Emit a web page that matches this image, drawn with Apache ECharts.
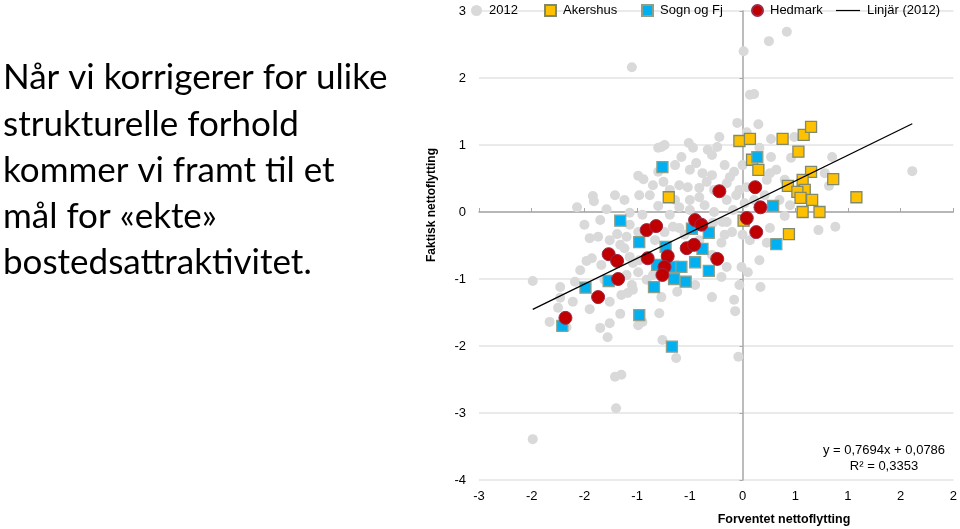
<!DOCTYPE html>
<html><head><meta charset="utf-8">
<script src="https://cdn.jsdelivr.net/npm/echarts@6/dist/echarts.min.js"></script>
<style>html,body{margin:0;padding:0;background:#fff}#c{width:960px;height:529px}</style>
</head><body><div id="c"></div>
<script>
// Data
const pts2012 = [
[0.42,2.69],[0.25,2.55],[0.01,2.40],[-1.05,2.16],[0.07,1.75],[0.11,1.76],[-0.05,1.33],[0.15,1.31],[0.04,1.19],
[-0.77,0.97],[-0.74,1.00],[-0.80,0.96],[-0.51,1.03],[-0.47,0.96],[-0.22,1.12],[-0.24,0.97],[-0.33,0.93],[-0.29,0.85],
[-0.58,0.82],[-0.44,0.73],[-0.38,0.58],[-0.29,0.55],[-0.12,0.52],[0.00,0.70],[0.27,1.09],[0.16,0.96],[0.27,0.82],
[0.32,0.63],[0.26,0.58],[0.23,0.48],[0.04,0.37],[-0.03,0.33],[-0.15,0.43],[-0.34,0.45],[-0.60,0.40],[-0.52,0.37],
[-0.41,0.36],[-0.69,0.33],[-0.85,0.40],[-0.75,0.45],[-0.80,0.60],[-0.99,0.54],[-0.94,0.49],[0.46,0.81],[0.49,1.12],
[0.40,0.48],[0.85,0.82],[0.78,0.58],[0.82,0.39],[1.61,0.61],[0.72,-0.27],[0.88,-0.22],
[-1.42,0.24],[-1.41,0.16],[-1.57,0.07],[-1.29,0.04],[-1.07,-0.01],[-0.95,-0.04],[-0.80,0.09],[-0.60,0.07],[-0.50,0.18],
[-0.41,0.22],[-0.15,0.18],[-0.06,0.25],[0.02,0.13],[-0.09,0.03],[-0.19,-0.15],[-0.10,-0.30],[0.00,-0.34],[0.07,-0.42],
[0.23,-0.46],[0.26,-0.24],[0.40,-0.06],[-0.20,-0.46],[-0.29,-0.64],[-0.15,-0.82],[-0.01,-0.82],[0.05,-0.90],[-0.20,-0.97],
[-0.45,-1.09],[-0.03,-1.09],[0.17,-1.12],[-0.77,-1.27],[-0.29,-1.27],[-0.08,-1.31],[-0.07,-1.48],[-0.79,-1.51],
[-0.76,-1.91],[-0.63,-2.18],[-0.04,-2.16],[-1.45,-0.39],[-1.37,-0.37],[-1.19,-0.33],[-1.10,-0.37],[-0.99,-0.30],
[-0.66,-0.22],[-0.60,-0.24],[-0.28,-0.16],[-0.15,-0.15],[-1.48,-0.73],[-1.43,-0.69],[-1.34,-0.79],[-1.12,-0.54],
[-1.07,-0.67],[-1.04,-0.76],[-0.99,-0.90],[-0.91,-1.01],[-0.85,-0.94],[-1.10,-0.94],[-1.05,-1.09],[-1.15,-1.24],
[-1.09,-1.21],[-1.26,-1.34],[-1.61,-1.34],[-1.73,-1.12],[-1.59,-1.04],[-1.73,-1.28],[-1.75,-1.43],[-1.45,-1.45],
[-1.16,-1.52],[-1.26,-1.66],[-0.95,-1.64],[-0.62,-1.19],[-1.83,-1.64],[-1.35,-1.73],[-1.99,-1.03],[-1.04,-1.16],
[-0.99,-1.69],[-1.28,-1.87],[-1.67,-1.72],[-1.15,-2.43],[-1.21,-2.46],[-1.20,-2.93],[-1.99,-3.39],
[-0.64,0.18],[-0.50,0.03],[-0.36,0.10],[-0.27,0.00],[-0.17,-0.34],[-0.41,-0.42],[-0.55,-0.34],[-0.74,-0.30],
[-0.83,-0.42],[-0.69,-0.04],[-0.27,0.33],[-0.88,0.25],[-0.98,0.25],[-1.12,0.18],[-1.21,0.25],[-1.07,-0.19],
[-1.16,-0.49],[-1.26,-0.42],[0.16,-0.72],[0.11,0.18],[0.21,0.25],[0.35,0.18],[0.45,0.10],[-0.17,0.70],[-0.08,0.60],
[-0.50,0.63],[-0.64,0.70],[-0.98,-0.72],[-1.31,-1.01],[-1.54,-0.87],[-1.50,-0.19],[-1.35,-0.12]
];
const akershus = [
[-0.03,1.06],[0.07,1.09],[0.38,1.09],[0.58,1.15],[0.65,1.27],[0.53,0.90],[0.09,0.78],[0.15,0.63],[0.65,0.60],
[0.86,0.49],[0.43,0.39],[0.57,0.48],[0.59,0.33],[0.52,0.30],[0.55,0.21],[0.66,0.18],[-0.70,0.22],[1.08,0.22],
[0.57,0.00],[0.73,0.00],[0.01,-0.13],[0.44,-0.33]
];
const sognOgFj = [
[-0.76,0.67],[0.14,0.82],[0.29,0.09],[0.32,-0.48],[-1.16,-0.13],[-0.98,-0.45],[-0.48,-0.25],[-0.32,-0.31],
[-0.73,-0.52],[-0.38,-0.55],[-0.45,-0.75],[-0.81,-0.79],[-0.66,-0.82],[-0.58,-0.82],[-0.32,-0.88],[-0.65,-1.00],
[-0.54,-1.04],[-1.27,-1.03],[-1.49,-1.13],[-0.84,-1.12],[-0.98,-1.54],[-1.71,-1.70],[-0.67,-2.01]
];
const hedmark = [
[-0.22,0.31],[0.12,0.37],[0.17,0.07],[0.04,-0.09],[0.13,-0.30],[-0.45,-0.12],[-0.39,-0.19],[-0.91,-0.27],
[-0.82,-0.21],[-1.27,-0.63],[-1.19,-0.73],[-0.90,-0.69],[-0.71,-0.66],[-0.53,-0.54],[-0.46,-0.49],[-0.74,-0.82],
[-0.76,-0.94],[-0.24,-0.70],[-1.18,-1.00],[-1.37,-1.27],[-1.68,-1.58]
];
const trendSlope = 0.7694, trendIntercept = 0.0786;
const leftText = ['Når vi korrigerer for ulike','strukturelle forhold','kommer vi framt til et','mål for «ekte»','bostedsattraktivitet.'];

const xs = pts2012.map(p=>p[0]);
const xMin = Math.min(...xs), xMax = Math.max(...xs);
const trend = [[xMin, trendSlope*xMin+trendIntercept],[xMax, trendSlope*xMax+trendIntercept]];

const FONT = 'Liberation Sans, Arial, sans-serif';
const chart = echarts.init(document.getElementById('c'), null, {renderer:'canvas'});
function roundExcel(v){ return (v<0?-1:1)*Math.round(Math.abs(v)); }

const legendBase = {top:-1, itemGap:0, itemWidth:11, itemHeight:11, textStyle:{fontFamily:FONT,fontSize:13,color:'#000',padding:[0,0,0,2]}, selectedMode:false};
const option = {
  animation:false,
  backgroundColor:'#fff',
  legend:[
    Object.assign({}, legendBase, {left:466, data:[{name:'2012', icon:'circle'}]}),
    Object.assign({}, legendBase, {left:539, data:[{name:'Akershus', icon:'rect'}]}),
    Object.assign({}, legendBase, {left:636, data:[{name:'Sogn og Fj', icon:'rect'}]}),
    Object.assign({}, legendBase, {left:746, data:[{name:'Hedmark', icon:'circle'}]}),
    Object.assign({}, legendBase, {left:831, data:[{name:'Linjär (2012)', icon:'path://M0,5L24,5L24,6.2L0,6.2Z'}], itemWidth:24, itemHeight:11})
  ],
  grid:{left:479, right:6, top:11, bottom:49, containLabel:false},
  xAxis:[
    {type:'value', min:-2.5, max:2, interval:0.5, position:'bottom',
     axisLine:{show:false, onZero:false}, axisTick:{show:false}, splitLine:{show:false},
     axisLabel:{fontFamily:FONT, fontSize:13, color:'#000', margin:10, formatter:v=>String(roundExcel(v))}},
    {type:'value', min:-2.5, max:2, interval:0.5, position:'top',
     axisLine:{show:true, onZero:true, lineStyle:{color:'#a6a6a6', width:1.5}},
     axisTick:{show:true, length:4, lineStyle:{color:'#a6a6a6'}}, axisLabel:{show:false}, splitLine:{show:false}}
  ],
  yAxis:[
    {type:'value', min:-4, max:3, interval:1, position:'left',
     axisLine:{show:false, onZero:false}, axisTick:{show:false},
     splitLine:{show:true, lineStyle:{color:'#e3e3e3', width:1.5}},
     axisLabel:{fontFamily:FONT, fontSize:13, color:'#000', margin:13}},
    {type:'value', min:-4, max:3, interval:1, position:'right',
     axisLine:{show:true, onZero:true, lineStyle:{color:'#a6a6a6', width:1.5}},
     axisTick:{show:true, length:3, inside:true, lineStyle:{color:'#a6a6a6'}}, axisLabel:{show:false}, splitLine:{show:false}}
  ],
  series:[
    {name:'2012', type:'scatter', data:pts2012, symbol:'circle', symbolSize:10,
     itemStyle:{color:'#d9d9d9', opacity:1}, z:2},
    {name:'Akershus', type:'scatter', data:akershus, symbol:'rect', symbolSize:11,
     itemStyle:{color:'#ffc000', borderColor:'#7f8a6a', borderWidth:1.3, opacity:1}, z:3},
    {name:'Sogn og Fj', type:'scatter', data:sognOgFj, symbol:'rect', symbolSize:11,
     itemStyle:{color:'#00b0f0', borderColor:'#8fa08a', borderWidth:1.3, opacity:1}, z:3},
    {name:'Hedmark', type:'scatter', data:hedmark, symbol:'circle', symbolSize:13,
     itemStyle:{color:'#c00000', borderColor:'#9a2a48', borderWidth:1, opacity:1}, z:4},
    {name:'Linjär (2012)', type:'line', data:trend, symbol:'none', silent:true,
     itemStyle:{color:'#000'}, lineStyle:{color:'#000', width:1.3}, z:5}
  ],
  graphic:[
    {type:'text', x:432, y:205, rotation:Math.PI/2,
     style:{text:'Faktisk nettoflytting', font:'bold 12px '+FONT, fill:'#000', align:'center', verticalAlign:'middle'}},
    {type:'text', x:784, y:520,
     style:{text:'Forventet nettoflytting', font:'bold 12.5px '+FONT, fill:'#000', align:'center', verticalAlign:'middle'}},
    {type:'text', x:884, y:450,
     style:{text:'y = 0,7694x + 0,0786', font:'13px '+FONT, fill:'#000', align:'center', verticalAlign:'middle'}},
    {type:'text', x:884, y:466,
     style:{text:'R² = 0,3353', font:'13px '+FONT, fill:'#000', align:'center', verticalAlign:'middle'}}
  ].concat(leftText.map((t,i)=>({type:'text', x:3, y:78+i*46.3,
     style:{text:t, font:'35px Lato, sans-serif', fill:'#000', align:'left', verticalAlign:'middle'}})))
};
chart.setOption(option);
</script></body></html>
